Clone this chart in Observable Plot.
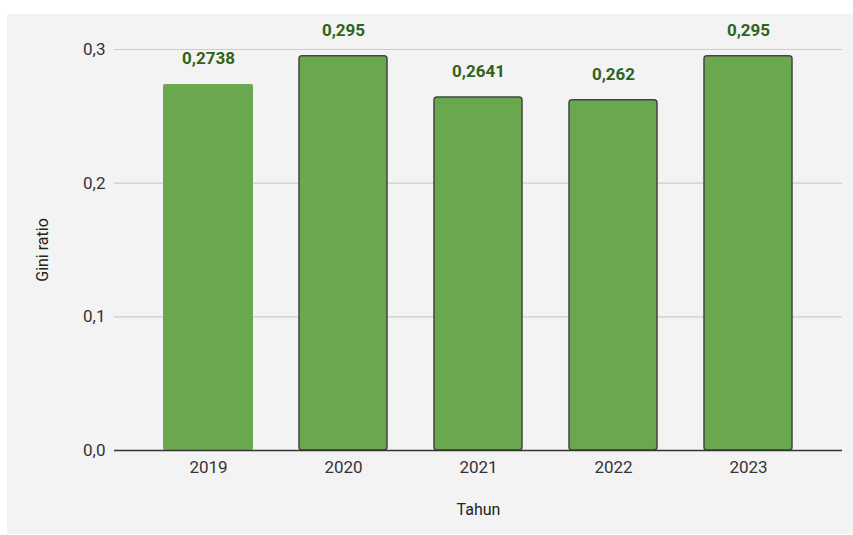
<!DOCTYPE html>
<html>
<head>
<meta charset="utf-8">
<script src="https://cdn.jsdelivr.net/npm/d3@7"></script>
<script src="https://cdn.jsdelivr.net/npm/@observablehq/plot@0.6"></script>
<style>
  html, body { margin: 0; padding: 0; background: #ffffff; }
  #wrap { position: relative; width: 853px; height: 535px; overflow: hidden; }
  #panel { position: absolute; left: 7px; top: 14px; width: 846px; height: 520px; background: #f3f3f3; }
  #chart { position: absolute; left: 0; top: 0; }
  #chart svg { background: transparent; }
</style>
</head>
<body>
<div id="wrap"><div id="panel"></div><div id="chart"></div></div>
<script>
const years = ["2019", "2020", "2021", "2022", "2023"];
const gini = [0.2738, 0.295, 0.2641, 0.262, 0.295];
const yTicks = [0, 0.1, 0.2, 0.3];
const xTitle = "Tahun";
const yTitle = "Gini ratio";
const noStrokeYears = ["2019"];

const data = years.map((year, i) => ({year, value: gini[i]}));
const fmtComma = d => String(d).replace(".", ",");
const fmtTick = d => d.toFixed(1).replace(".", ",");

const chart = Plot.plot({
  width: 853,
  height: 535,
  marginLeft: 114,
  marginRight: 11,
  marginTop: 49,
  marginBottom: 85,
  style: {fontFamily: "Roboto, sans-serif", fontSize: "17px", color: "#333", background: "transparent"},
  x: {domain: years, paddingInner: 0.337, paddingOuter: 0.348, label: null, tickSize: 0, tickPadding: 10},
  y: {domain: [0, 0.3], ticks: yTicks, tickFormat: fmtTick, label: null, tickSize: 0, tickPadding: 9},
  marks: [
    Plot.ruleY(yTicks.filter(t => t > 0), {stroke: "#cccccc", strokeWidth: 1.2}),
    Plot.barY(data.filter(d => noStrokeYears.includes(d.year)), {x: "year", y: "value", fill: "#6aa84f", rx: 2}),
    Plot.barY(data.filter(d => !noStrokeYears.includes(d.year)), {x: "year", y: "value", fill: "#6aa84f", stroke: "#444444", strokeWidth: 1.5, rx: 3, insetLeft: 1, insetRight: 1}),
    Plot.ruleY([0], {stroke: "#333333", strokeWidth: 1.5}),
    Plot.text(data, {x: "year", y: "value", text: d => fmtComma(d.value), dy: -26, lineAnchor: "middle", fill: "#2f6420", fontWeight: "bold", fontSize: 17}),
    Plot.text([yTitle], {frameAnchor: "left", dx: -72, rotate: -90, text: d => d, fill: "#222", fontSize: 16, textAnchor: "middle", lineAnchor: "middle"}),
    Plot.text([xTitle], {frameAnchor: "bottom", dy: 59, text: d => d, fill: "#222", fontSize: 16, textAnchor: "middle", lineAnchor: "middle"})
  ]
});
document.getElementById("chart").appendChild(chart);
</script>
</body>
</html>
